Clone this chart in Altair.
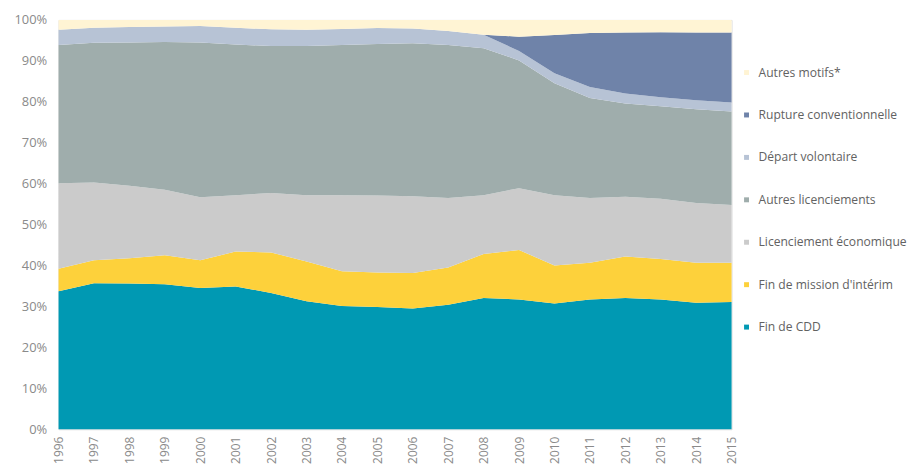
import altair as alt
import pandas as pd

years = list(range(1996, 2016))

categories = [
    "Fin de CDD",
    "Fin de mission d'intérim",
    "Licenciement économique",
    "Autres licenciements",
    "Départ volontaire",
    "Rupture conventionnelle",
    "Autres motifs*",
]

colors = ["#0099B3", "#FDD13B", "#CBCBCB", "#9FADAC", "#B7C3D5", "#6F83A9", "#FFF4D4"]

fin_cdd = [33.7, 35.7, 35.6, 35.4, 34.5, 34.9, 33.3, 31.3, 30.1, 29.9,
           29.5, 30.4, 32.1, 31.7, 30.7, 31.7, 32.1, 31.7, 30.9, 31.1]
fin_interim = [5.5, 5.6, 6.2, 7.1, 6.8, 8.5, 9.9, 9.7, 8.5, 8.4,
               8.7, 9.1, 10.7, 12.1, 9.3, 9.0, 10.1, 9.9, 9.8, 9.6]
lic_eco = [20.9, 19.0, 17.7, 16.0, 15.4, 13.8, 14.5, 16.2, 18.6, 18.8,
           18.7, 17.0, 14.4, 15.1, 17.2, 15.8, 14.6, 14.7, 14.6, 14.1]
autres_lic = [33.8, 34.1, 35.0, 36.1, 37.8, 36.8, 35.9, 36.4, 36.7, 37.0,
              37.4, 37.4, 35.9, 31.2, 27.3, 24.4, 22.8, 22.6, 22.9, 22.8]
depart_vol = [3.7, 3.7, 3.8, 3.8, 4.0, 4.1, 4.1, 4.0, 3.9, 3.9,
              3.6, 3.4, 3.3, 2.3, 2.5, 2.7, 2.4, 2.2, 2.2, 2.2]
rupture = [0, 0, 0, 0, 0, 0, 0, 0, 0, 0,
           0, 0, 0, 3.5, 9.3, 13.2, 14.9, 15.9, 16.5, 17.1]
autres_motifs = [2.4, 1.9, 1.7, 1.6, 1.5, 1.9, 2.3, 2.4, 2.2, 2.0,
                 2.1, 2.7, 3.6, 4.1, 3.7, 3.2, 3.1, 3.0, 3.1, 3.1]

series = [fin_cdd, fin_interim, lic_eco, autres_lic, depart_vol, rupture, autres_motifs]

rows = []
for k, (cat, vals) in enumerate(zip(categories, series)):
    for y, v in zip(years, vals):
        rows.append({"annee": y, "motif": cat, "part": v / 100.0, "ordre": k})
df = pd.DataFrame(rows)

legend_domain = categories[::-1]
legend_range = colors[::-1]

chart = alt.Chart(df).mark_area(interpolate="linear").encode(
    x=alt.X("annee:Q",
            scale=alt.Scale(domain=[1996, 2015], nice=False, zero=False),
            axis=alt.Axis(values=years, format="d", title=None, labelAngle=270,
                          labelFontSize=12, labelColor="#8A8A8A", labelFont="Open Sans",
                          labelPadding=7, ticks=False, domain=False, grid=False,
                          labelOverlap=False)),
    y=alt.Y("part:Q", stack="zero",
            scale=alt.Scale(domain=[0, 1], nice=False),
            axis=alt.Axis(values=[i / 10 for i in range(11)], format=".0%", title=None,
                          labelFontSize=13, labelColor="#8A8A8A", labelFont="Open Sans",
                          labelPadding=12, ticks=False, domain=False, grid=False)),
    color=alt.Color("motif:N",
                    scale=alt.Scale(domain=legend_domain, range=legend_range),
                    legend=alt.Legend(title=None, orient="none", legendX=688, legendY=47,
                                      symbolType="square", symbolSize=25, symbolStrokeWidth=0,
                                      labelFontSize=12.2, labelFont="Open Sans",
                                      labelColor="#626262", labelOffset=6,
                                      rowPadding=29.8, padding=0, labelLimit=300)),
    order=alt.Order("ordre:Q", sort="ascending"),
).properties(
    width=679,
    height=413,
    autosize=alt.AutoSizeParams(type="none"),
    padding={"left": 51, "top": 10, "right": 179, "bottom": 33},
).configure_view(strokeWidth=0).configure(background="white")

chart.save("out.html", embed_options={"renderer": "svg", "actions": False})
